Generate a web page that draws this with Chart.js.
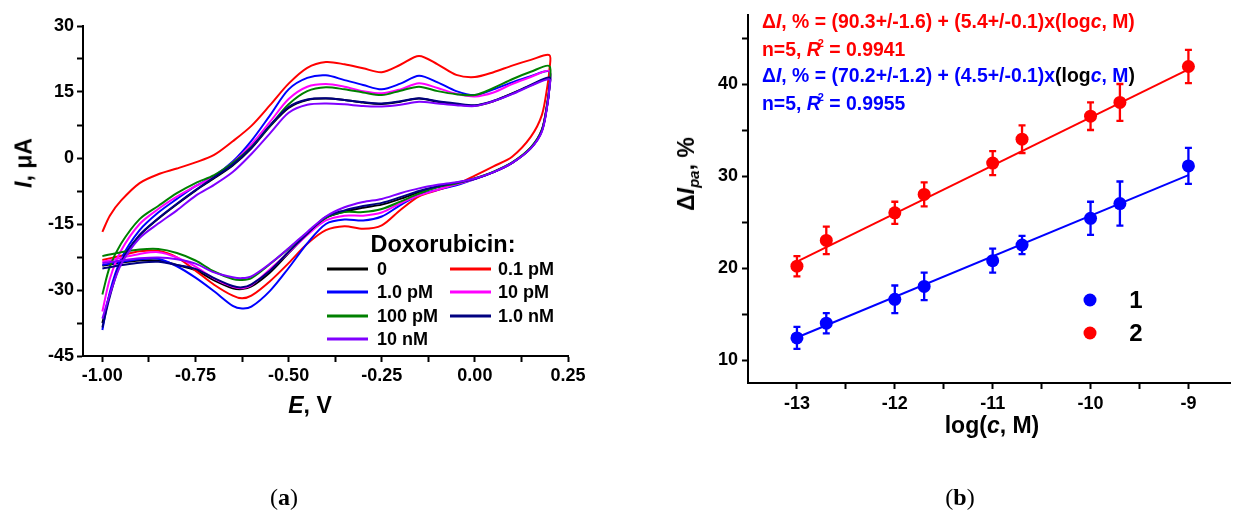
<!DOCTYPE html>
<html lang="en">
<head>
<meta charset="utf-8">
<title>Doxorubicin</title>
<script src="https://cdn.jsdelivr.net/npm/chart.js@4/dist/chart.umd.min.js"></script>
<style>
  html, body { margin: 0; padding: 0; background: #fff; }
  body {
    position: relative; width: 1237px; height: 513px; overflow: hidden;
    font-family: "Liberation Sans", Arial, sans-serif; font-weight: bold; color: #000;
  }
  canvas { position: absolute; top: 0; }
  #graficaCV { left: 0; }
  #graficaCal { left: 620px; }
  .txt { position: absolute; white-space: nowrap; line-height: 1; }
  .centro { transform: translate(-50%, -50%); }
  .vertical { transform: translate(-50%, -50%) rotate(-90deg); }
  .titulo { font-size: 23px; }
  .ecuacion { left: 762px; font-size: 19.4px; transform: translateY(-50%); }
  .rojo { color: #ff0000; }
  .azul { color: #0000ff; }
  .negro { color: #000; }
  .leyenda { font-size: 18px; transform: translateY(-50%); }
  .linea { position: absolute; height: 3px; width: 41px; transform: translateY(-50%); }
  .punto { position: absolute; width: 13px; height: 13px; border-radius: 50%; transform: translate(-50%, -50%); }
  .caption { font-family: "Liberation Serif", "Times New Roman", serif; font-weight: normal; font-size: 24px; }
  sup.r2 { font-size: 11px; vertical-align: 9px; margin-left: -3px; }
  sub.pa { font-size: 15px; vertical-align: -5px; }
</style>
</head>
<body>
<canvas id="graficaCV" width="600" height="420"></canvas>
<canvas id="graficaCal" width="617" height="440"></canvas>

<!-- Textos panel (a) -->
<div class="txt titulo vertical" style="left:24px; top:163px;"><i>I</i>, μA</div>
<div class="txt titulo centro" style="left:310px; top:405px;"><i>E</i>, V</div>
<div class="txt centro" style="left:443px; top:245px; font-size:23.5px;">Doxorubicin:</div>
<div id="leyendaCV"></div>

<!-- Textos panel (b) -->
<div class="txt titulo vertical" style="left:688px; top:174px;">Δ<i>I</i><sub class="pa"><i>pa</i></sub>, %</div>
<div class="txt titulo centro" style="left:992px; top:425px;">log(<i>c</i>, M)</div>
<div class="txt ecuacion rojo" style="top:22px;">Δ<i>I</i>, % = (90.3+/-1.6) + (5.4+/-0.1)x(log<i>c</i>, M)</div>
<div class="txt ecuacion rojo" style="top:49px;">n=5, <i>R</i><sup class="r2">2</sup> = 0.9941</div>
<div class="txt ecuacion azul" style="top:76px;">Δ<i>I</i>, % = (70.2+/-1.2) + (4.5+/-0.1)x<span class="negro">(log</span><i>c</i>, M<span class="negro">)</span></div>
<div class="txt ecuacion azul" style="top:103px;">n=5, <i>R</i><sup class="r2">2</sup> = 0.9955</div>
<div id="leyendaCal"></div>

<div class="txt caption centro" style="left:284px; top:497px;">(<b>a</b>)</div>
<div class="txt caption centro" style="left:960px; top:497px;">(<b>b</b>)</div>

<script>
const FUENTE = '"Liberation Sans", Arial, sans-serif';

// ---- Panel (a): voltamperogramas ----
const ETIQUETAS_CV = ['0', '0.1 pM', '1.0 pM', '10 pM', '100 pM', '1.0 nM', '10 nM'];
const COLORES_CV = ['#000000', '#ff0000', '#0000ff', '#ff00ff', '#008000', '#000080', '#8000ff'];

// Potenciales (V) barrido de ida y de vuelta
const E_IDA = [-1.0, -0.98, -0.95, -0.9, -0.85, -0.8, -0.75, -0.7, -0.65, -0.6, -0.55, -0.5, -0.45,
  -0.4, -0.35, -0.3, -0.25, -0.2, -0.15, -0.1, -0.05, 0.0, 0.05, 0.1, 0.15, 0.2];
const E_VUELTA = [0.2, 0.195, 0.18, 0.15, 0.1, 0.05, 0.0, -0.05, -0.1, -0.15, -0.2, -0.25, -0.3, -0.35,
  -0.4, -0.45, -0.5, -0.55, -0.6, -0.625, -0.65, -0.7, -0.75, -0.8, -0.85, -0.9, -0.95, -1.0];

// Corriente (µA) en la ida
const ida0 = [-37.5, -31.0, -23.5, -17.6, -13.8, -10.5, -7.4, -4.6, -1.7, 2.2, 7.2, 11.4, 13.2,
  13.5, 13.2, 12.6, 12.3, 12.8, 13.5, 12.8, 12.2, 11.9, 12.9, 14.7, 16.5, 18.2];
const ida01pM = [-16.8, -13.1, -9.7, -5.7, -3.7, -2.4, -1.0, 0.7, 3.8, 7.3, 12.0, 16.9, 20.5,
  21.8, 21.3, 20.4, 19.5, 21.2, 23.2, 21.3, 18.9, 18.4, 19.5, 21.0, 22.3, 23.4];
const ida1pM = [-39.1, -30.5, -23.0, -16.4, -12.4, -9.3, -6.4, -4.1, -0.8, 3.9, 9.7, 15.6, 18.2,
  18.8, 17.7, 16.6, 15.6, 16.9, 18.7, 17.2, 15.2, 14.3, 15.6, 17.2, 18.6, 19.7];
const ida10pM = [-34.9, -27.5, -21.1, -15.0, -11.6, -8.8, -6.4, -4.3, -1.1, 3.1, 8.2, 13.4, 16.2,
  16.8, 16.2, 15.2, 14.7, 15.6, 17.0, 15.9, 14.6, 14.0, 14.9, 16.8, 18.4, 19.8];
const ida100pM = [-31.0, -24.7, -19.5, -13.9, -10.9, -8.0, -5.7, -3.9, -1.1, 2.5, 7.3, 12.2, 15.2,
  16.1, 15.6, 14.9, 14.3, 15.3, 16.2, 15.2, 14.5, 14.3, 15.9, 17.9, 19.6, 20.9];
const ida1nM = [-38.5, -31.5, -23.7, -17.5, -13.7, -10.4, -7.3, -4.4, -1.5, 2.4, 7.4, 11.6, 13.3,
  13.6, 13.2, 12.7, 12.4, 12.9, 13.6, 12.9, 12.4, 12.0, 13.0, 14.6, 16.6, 18.3];
const ida10nM = [-36.5, -31.0, -24.2, -18.2, -14.9, -11.9, -8.6, -6.1, -3.2, 0.9, 5.6, 10.3, 12.1,
  12.4, 12.2, 11.8, 11.7, 12.1, 12.8, 12.4, 12.0, 11.8, 12.9, 14.5, 16.4, 17.9];

// Corriente (µA) en la vuelta
const vuelta0 = [16.1, 12.5, 6.3, 2.3, -1.1, -3.2, -4.7, -5.7, -6.6, -7.8, -9.3, -10.6, -11.3, -12.2,
  -13.6, -17.3, -21.6, -26.0, -29.2, -29.8, -29.6, -27.8, -25.5, -24.3, -23.3, -23.3, -23.8, -24.5];
const vuelta01pM = [20.0, 16.5, 9.8, 4.8, 0.3, -1.9, -4.0, -6.0, -7.3, -8.7, -11.8, -15.3, -16.1, -15.5,
  -16.4, -19.5, -23.9, -28.0, -31.3, -31.9, -31.3, -28.8, -25.6, -22.6, -21.1, -21.2, -22.2, -23.2];
const vuelta1pM = [16.0, 12.5, 6.3, 2.3, -1.1, -3.2, -4.8, -6.2, -7.2, -8.4, -10.7, -13.3, -14.2, -14.0,
  -15.0, -19.4, -25.0, -30.2, -33.8, -34.2, -33.6, -30.3, -27.2, -24.6, -22.9, -23.0, -23.6, -24.3];
const vuelta10pM = [16.0, 12.6, 6.4, 2.3, -1.1, -3.2, -4.7, -6.0, -7.2, -8.5, -10.3, -12.4, -13.1, -13.1,
  -14.2, -17.5, -21.5, -25.3, -28.9, -29.6, -29.3, -27.4, -24.7, -22.6, -21.4, -21.8, -22.7, -23.6];
const vuelta100pM = [16.2, 12.8, 6.5, 2.4, -1.0, -3.1, -4.6, -5.8, -6.6, -8.1, -9.9, -11.6, -12.3, -12.3,
  -13.6, -17.0, -20.6, -24.1, -27.3, -27.7, -27.5, -25.8, -23.3, -21.6, -20.7, -20.8, -21.4, -22.3];
const vuelta1nM = [16.0, 12.4, 6.2, 2.2, -1.1, -3.2, -4.7, -5.6, -6.4, -7.5, -8.9, -10.2, -10.9, -11.9,
  -13.4, -17.2, -21.3, -25.6, -28.7, -29.4, -29.1, -27.3, -25.2, -24.3, -23.6, -23.8, -24.4, -25.1];
const vuelta10nM = [15.8, 12.2, 6.0, 2.2, -1.1, -3.2, -4.65, -5.5, -6.1, -6.9, -8.0, -9.3, -10.0, -11.2,
  -13.3, -16.8, -20.5, -24.0, -26.9, -27.3, -27.1, -26.0, -24.0, -23.0, -22.6, -22.8, -23.3, -23.9];

const IDA = [ida0, ida01pM, ida1pM, ida10pM, ida100pM, ida1nM, ida10nM];
const VUELTA = [vuelta0, vuelta01pM, vuelta1pM, vuelta10pM, vuelta100pM, vuelta1nM, vuelta10nM];

const TICKS_E = [-1.0, -0.75, -0.5, -0.25, 0.0, 0.25];
const TICKS_E_MENOR = [-0.875, -0.625, -0.375, -0.125, 0.125];
const TICKS_I = [-45, -30, -15, 0, 15, 30];
const TICKS_I_MENOR = [-37.5, -22.5, -7.5, 7.5, 22.5];

// ---- Panel (b): calibración ----
const LOG_C = [-13, -12.7, -12, -11.7, -11, -10.7, -10, -9.7, -9];
const DI_1 = [12.4, 14.0, 16.6, 18.0, 20.8, 22.5, 25.4, 27.0, 31.1];
const ERR_1 = [1.2, 1.1, 1.5, 1.5, 1.3, 1.0, 1.8, 2.4, 1.95];
const DI_2 = [20.2, 23.0, 26.0, 28.0, 31.4, 34.0, 36.5, 38.0, 41.9];
const ERR_2 = [1.1, 1.5, 1.2, 1.3, 1.3, 1.5, 1.5, 2.0, 1.8];
const RECTA_X = [-13, -9];
const RECTA_1 = [12.45, 30.1];
const RECTA_2 = [20.7, 41.6];
const ETIQUETAS_CAL = ['1', '2'];
const COLORES_CAL = ['#0000ff', '#ff0000'];

const TICKS_LOG = [-13, -12, -11, -10, -9];
const TICKS_LOG_MENOR = [-12.5, -11.5, -10.5, -9.5];
const TICKS_DI = [10, 20, 30, 40];
const TICKS_DI_MENOR = [15, 25, 35, 45];

// Eje lineal con ticks mayores y menores
function ejeLineal(min, max, mayores, menores, formato, relleno, extra) {
  return Object.assign({
    type: 'linear',
    min: min,
    max: max,
    afterBuildTicks: eje => {
      eje.ticks = [...mayores, ...menores].sort((a, b) => a - b).map(v => ({ value: v }));
    },
    ticks: {
      autoSkip: false,
      maxRotation: 0,
      color: '#000',
      padding: relleno,
      font: { family: FUENTE, size: 18, weight: 'bold' },
      callback: v => mayores.includes(v) ? formato(v) : ''
    },
    grid: { drawOnChartArea: false, tickLength: 6, tickWidth: 2, tickColor: '#000' },
    border: { color: '#000', width: 2 }
  }, extra);
}

const opcionesBase = {
  responsive: false,
  devicePixelRatio: 1,
  animation: false,
  plugins: { legend: { display: false }, tooltip: { enabled: false } }
};

// Gráfica (a)
const datosCV = ETIQUETAS_CV.map((etq, i) => ({
  label: etq,
  data: [
    ...E_IDA.map((e, k) => ({ x: e, y: IDA[i][k] })),
    ...E_VUELTA.map((e, k) => ({ x: e, y: VUELTA[i][k] }))
  ],
  borderColor: COLORES_CV[i],
  borderWidth: 2,
  pointRadius: 0,
  showLine: true,
  tension: 0.3,
  order: ETIQUETAS_CV.length - i
}));

new Chart(document.getElementById('graficaCV'), {
  type: 'scatter',
  data: { datasets: datosCV },
  options: Object.assign({}, opcionesBase, {
    layout: { padding: { left: 0, top: 26, right: 32, bottom: 0 } },
    scales: {
      x: ejeLineal(-1.052, 0.25, TICKS_E, TICKS_E_MENOR, v => v.toFixed(2), 3,
        { afterFit: eje => { eje.height = 64; } }),
      y: ejeLineal(-45, 30, TICKS_I, TICKS_I_MENOR, v => String(v), 3,
        { afterFit: eje => { eje.width = 83; } })
    }
  })
});

// Leyenda (a) en dos columnas
const leyendaCV = document.getElementById('leyendaCV');
ETIQUETAS_CV.forEach((etq, i) => {
  const col = i % 2;
  const y = 269 + Math.floor(i / 2) * 23.3;
  const linea = document.createElement('div');
  linea.className = 'linea';
  linea.style.left = [327, 450][col] + 'px';
  linea.style.top = y + 'px';
  linea.style.background = COLORES_CV[i];
  const texto = document.createElement('div');
  texto.className = 'txt leyenda';
  texto.style.left = [377, 498][col] + 'px';
  texto.style.top = y + 'px';
  texto.textContent = etq;
  leyendaCV.append(linea, texto);
});

// Barras de error (b)
const seriesCal = [
  { valores: DI_1, errores: ERR_1, color: COLORES_CAL[0] },
  { valores: DI_2, errores: ERR_2, color: COLORES_CAL[1] }
];

const barrasError = {
  id: 'barrasError',
  afterDatasetsDraw(chart) {
    const { ctx, scales: { x, y } } = chart;
    ctx.save();
    ctx.lineWidth = 2.3;
    seriesCal.forEach(s => {
      ctx.strokeStyle = s.color;
      LOG_C.forEach((c, k) => {
        const px = x.getPixelForValue(c);
        const arriba = y.getPixelForValue(s.valores[k] + s.errores[k]);
        const abajo = y.getPixelForValue(s.valores[k] - s.errores[k]);
        ctx.beginPath();
        ctx.moveTo(px, arriba); ctx.lineTo(px, abajo);
        ctx.moveTo(px - 3.5, arriba); ctx.lineTo(px + 3.5, arriba);
        ctx.moveTo(px - 3.5, abajo); ctx.lineTo(px + 3.5, abajo);
        ctx.stroke();
      });
    });
    ctx.restore();
  }
};

// Gráfica (b)
new Chart(document.getElementById('graficaCal'), {
  type: 'scatter',
  data: {
    datasets: [
      {
        data: RECTA_X.map((c, k) => ({ x: c, y: RECTA_1[k] })),
        borderColor: COLORES_CAL[0], borderWidth: 2, pointRadius: 0, showLine: true, order: 3
      },
      {
        data: RECTA_X.map((c, k) => ({ x: c, y: RECTA_2[k] })),
        borderColor: COLORES_CAL[1], borderWidth: 2, pointRadius: 0, showLine: true, order: 3
      },
      {
        label: ETIQUETAS_CAL[0],
        data: LOG_C.map((c, k) => ({ x: c, y: DI_1[k] })),
        backgroundColor: COLORES_CAL[0], pointRadius: 6.5, pointBorderWidth: 0, order: 1
      },
      {
        label: ETIQUETAS_CAL[1],
        data: LOG_C.map((c, k) => ({ x: c, y: DI_2[k] })),
        backgroundColor: COLORES_CAL[1], pointRadius: 6.5, pointBorderWidth: 0, order: 1
      }
    ]
  },
  options: Object.assign({}, opcionesBase, {
    layout: { padding: { left: 0, top: 15, right: 0, bottom: 0 } },
    scales: {
      x: ejeLineal(-13.5, -8.57, TICKS_LOG, TICKS_LOG_MENOR, v => String(v), 4,
        { afterFit: eje => { eje.height = 57; } }),
      y: ejeLineal(7.5, 47.5, TICKS_DI, TICKS_DI_MENOR, v => String(v), 4,
        { afterFit: eje => { eje.width = 128; } })
    }
  }),
  plugins: [barrasError]
});

// Leyenda (b)
const leyendaCal = document.getElementById('leyendaCal');
ETIQUETAS_CAL.forEach((etq, i) => {
  const y = 300 + i * 33.3;
  const punto = document.createElement('div');
  punto.className = 'punto';
  punto.style.left = '1090px';
  punto.style.top = y + 'px';
  punto.style.background = COLORES_CAL[i];
  const texto = document.createElement('div');
  texto.className = 'txt centro';
  texto.style.left = '1136px';
  texto.style.top = y + 'px';
  texto.style.fontSize = '24px';
  texto.textContent = etq;
  leyendaCal.append(punto, texto);
});
</script>
</body>
</html>
